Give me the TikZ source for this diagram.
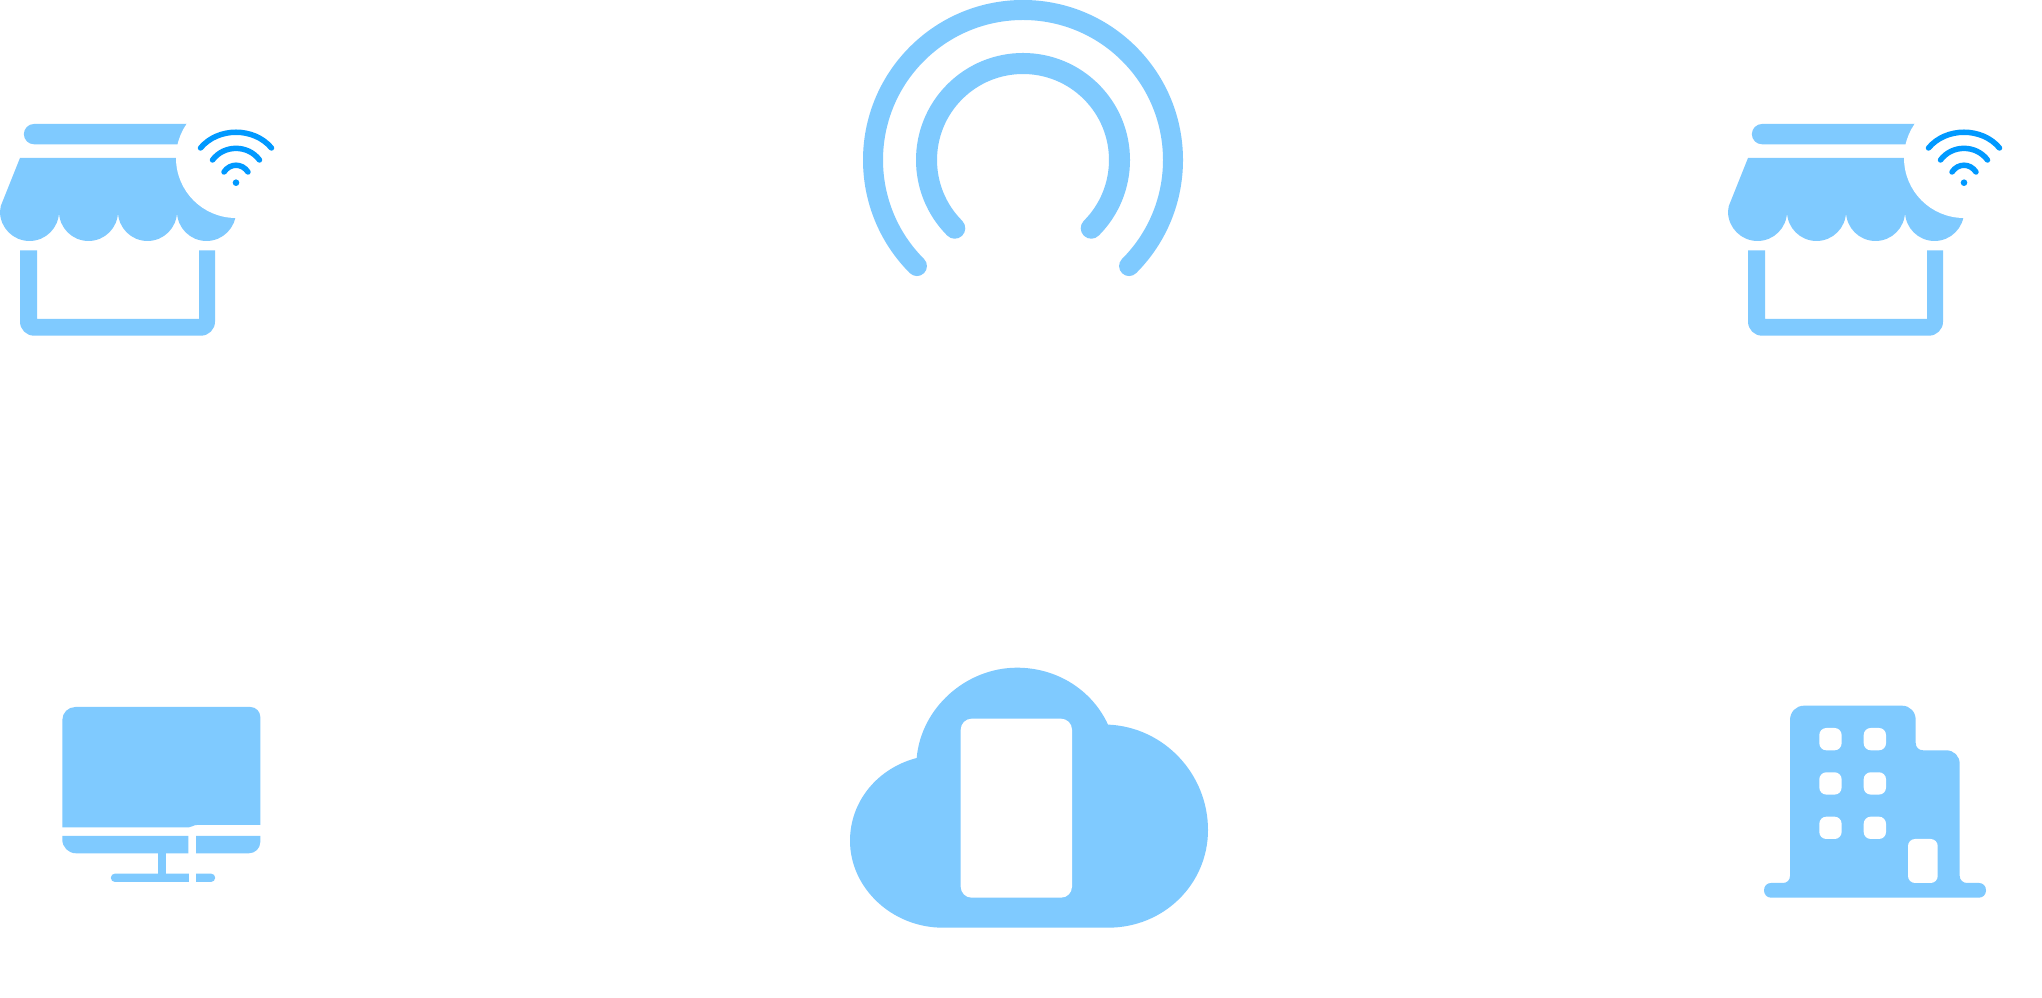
\documentclass[tikz,border=0pt]{standalone}
\usepackage{tikz}
\usepackage{color}
\definecolor{iconblue}{HTML}{7FCAFF}
\definecolor{wifiblue}{HTML}{0099FF}
\tikzset{
    icon/.style={fill=iconblue},
    hole/.style={fill=white},
    ring/.style={draw=iconblue, line cap=round},
    wave/.style={draw=wifiblue, line width=0.055cm, line cap=round}
}
\begin{document}
\begin{tikzpicture}[x=0.01cm, y=-0.01cm]
                \useasboundingbox[fill=white] (0,0) rectangle (2042,998);

                \foreach \dx in {0,1728} {
                    \begin{scope}[xshift=\dx*0.01cm]
                        \fill[icon] (34,124) -- (200,124) -- (200,144.3) -- (34,144.3) arc (90:270:10.15) -- cycle;
                        \fill[icon] (0,211.5) arc (180:0:29.5) arc (180:0:29.5) arc (180:0:29.5) arc (180:0:29.5) -- (236,158) -- (20,158) -- (0.8,206) -- cycle;
                        \fill[hole] (236,158) circle (60);
                        \fill[icon] (20,250.3) -- (37,250.3) -- (37,319) -- (199,319) -- (199,250.3) -- (215,250.3) -- (215,321.7) arc (0:90:14) -- (34,335.7) arc (90:180:14) -- cycle;

                        \fill[wifiblue] (236,182.7) circle (3.3);
                        \draw[wave] (200.5,148) .. controls (218,127) and (254,127) .. (271.5,148);
                        \draw[wave] (212.5,160) .. controls (224,144.5) and (248,144.5) .. (259.5,160);
                        \draw[wave] (224,172) .. controls (230,163) and (242,163) .. (248,172);
                    \end{scope}
                }

                \draw[ring, line width=0.2cm] (1023,160) ++(135:150) arc (135:405:150);
                \draw[ring, line width=0.21cm] (1023,160) ++(135:96.5) arc (135:405:96.5);

                \fill[icon] (62.3,720) arc (180:270:13) -- (250.3,707) arc (270:360:10) -- (260.3,825) -- (197,825) .. controls (193,825) and (192,827.3) .. (189,827.3) -- (62.3,827.3) -- cycle;
                \fill[icon] (62.3,836) -- (188.3,836) -- (188.3,853.3) -- (76,853.3) arc (90:180:13.7) -- cycle;
                \fill[icon] (196,836) -- (260.3,836) -- (260.3,842) arc (0:90:11.3) -- (196,853.3) -- cycle;
                \fill[icon] (157.5,853) rectangle (166.3,874);
                \fill[icon] (115,873.6) -- (188.8,873.6) -- (188.8,882) -- (115,882) arc (90:270:4.2) -- cycle;
                \fill[icon] (196,873.6) -- (211,873.6) arc (-90:90:4.2) -- (196,882) -- cycle;

                \fill[icon] (916.7,758) .. controls (921,708) and (966,667.7) .. (1017,667.7) .. controls (1057,667.7) and (1092,690) .. (1108,724.6) .. controls (1164,727) and (1208,774) .. (1208,830) .. controls (1208,884) and (1164,927.7) .. (1108,927.7) -- (943,927.7) .. controls (892,927.7) and (850,888) .. (850,840.7) .. controls (850,801) and (878,768) .. (916.7,758) -- cycle;
                \fill[hole, rounded corners=0.11cm] (960.7,718.7) rectangle (1072,897.7);

                \fill[icon] (1771,883) -- (1783,883) .. controls (1787,883) and (1790,880) .. (1790,876) -- (1790,720) .. controls (1790,712) and (1796,705.7) .. (1804,705.7) -- (1902,705.7) .. controls (1910,705.7) and (1915.7,712) .. (1915.7,720) -- (1915.7,743) .. controls (1915.7,747.5) and (1919,750.3) .. (1923,750.3) -- (1946,750.3) .. controls (1954,750.3) and (1959.7,756) .. (1959.7,764) -- (1959.7,876) .. controls (1959.7,880) and (1963,883) .. (1967,883) -- (1979,883) .. controls (1983,883) and (1986,886) .. (1986,890.3) .. controls (1986,894.5) and (1983,897.7) .. (1979,897.7) -- (1771,897.7) .. controls (1767,897.7) and (1764,894.5) .. (1764,890.3) .. controls (1764,886) and (1767,883) .. (1771,883) -- cycle;
                \foreach \wx in {1819.3,1863.7} {
                    \foreach \wy in {728,772.3,816.7} {
                        \fill[hole, rounded corners=0.07cm] (\wx,\wy) rectangle ++(22.3,22.3);
                    }
                }
                \fill[hole, rounded corners=0.07cm] (1908,839) rectangle (1937.7,883);
            \end{tikzpicture}
\end{document}
